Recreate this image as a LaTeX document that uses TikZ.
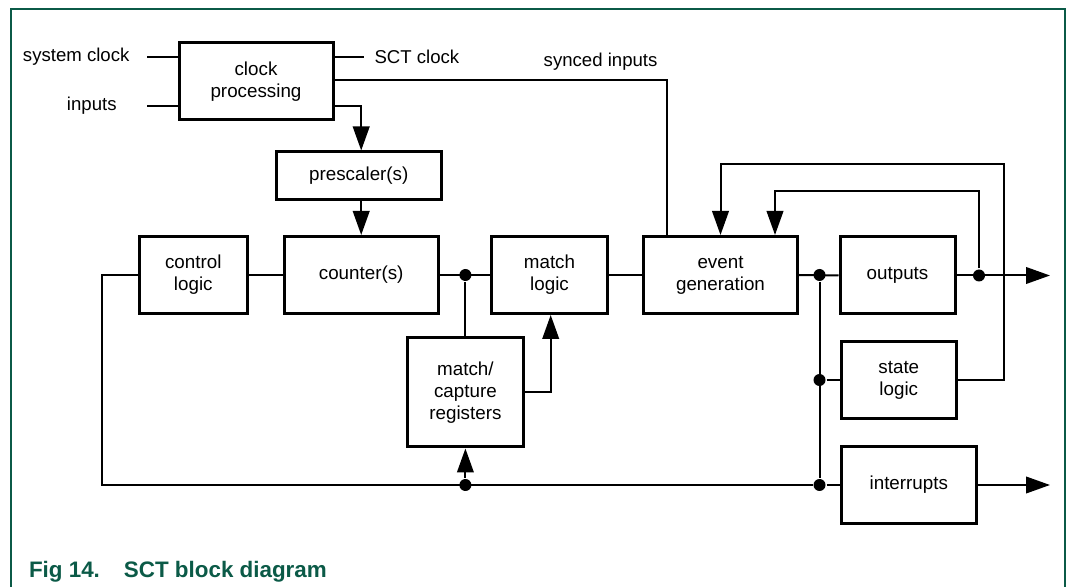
\documentclass[tikz,border=0pt]{standalone}
\usepackage{fontspec}
\setmainfont{Liberation Sans}
\usetikzlibrary{arrows.meta,positioning}
\definecolor{figgreen}{HTML}{0B5A47}

\begin{document}
\begin{tikzpicture}[x=0.5pt, y=-0.5pt, line width=1pt,
>={Triangle[length=12pt,width=8.3pt]},
block/.style={draw, line width=1.5pt, align=center, inner sep=0pt, font=\fontsize{9.4}{10.9}\selectfont},
lbl/.style={inner sep=0pt, font=\fontsize{9.3}{11}\selectfont},
dot/.style={circle, fill, inner sep=0pt, minimum size=6pt}]
\useasboundingbox (0,0) rectangle (1066,587);
\draw [figgreen, line width=0.6pt] (11,587) -- (11,9) -- (1065,9) -- (1065,587);

% blocks
\node [block, minimum width=77pt, minimum height=38.5pt] (clk_proc) at (256,81.5) {clock\\processing};
\node [block, minimum width=82.25pt, minimum height=24pt] (presc) at (358.8,176) {prescaler(s)};
\node [block, minimum width=54pt, minimum height=38.5pt] (ctrl) at (193.3,275) {control\\logic};
\node [block, minimum width=77pt, minimum height=38.5pt] (ctr) at (361.2,275) {counter(s)};
\node [block, minimum width=57.8pt, minimum height=38.5pt] (match) at (549.5,275) {match\\logic};
\node [block, minimum width=58pt, minimum height=54.5pt] (mcr) at (465.4,392.5) {match/\\capture\\registers};
\node [block, minimum width=77pt, minimum height=38.5pt] (evgen) at (720.5,275) {event\\generation};
\node [block, minimum width=57.5pt, minimum height=38.5pt] (outp) at (897.5,275.5) {\raisebox{-2pt}{outputs}};
\node [block, minimum width=57.8pt, minimum height=38.3pt] (statel) at (898.8,380) {state\\logic};
\node [block, minimum width=67.8pt, minimum height=38.3pt] (irq) at (908.8,485) {\raisebox{1.5pt}{interrupts}};

% labels
\node [lbl, anchor=west] (sysclk) at (22,57) {system clock};
\node [lbl] (inp) at (91.8,106) {inputs};
\node [lbl, anchor=west] (sctclk) at (373.5,57) {SCT clock};
\node [lbl] (sync) at (600.6,62) {synced inputs};

\coordinate (sysclk_in) at (147,57);
\coordinate (inp_in) at (147,106);
\coordinate (sctclk_out) at (364,57);
\coordinate (fb_outer) at (1003.5,164.5);
\coordinate (fb_inner) at (979,190.7);
\coordinate (out_end) at (1050,275.5);
\coordinate (irq_end) at (1050,485);

% clock side
\draw (sysclk_in) -- (sysclk_in -| clk_proc.west);
\draw (inp_in) -- (inp_in -| clk_proc.west);
\draw (sctclk_out -| clk_proc.east) -- (sctclk_out);
\draw ([yshift=0.75pt]clk_proc.east) -| ([xshift=-26.9pt]evgen.north);
\draw [->] ([yshift=-12.25pt]clk_proc.east) -| (ctr.north |- presc.north);
\draw [->] (presc.south -| ctr.north) -- (ctr.north);

% main chain
\node [dot] (j_ctr) at (ctr.east -| mcr.north) {};
\node [dot] (j_ev) at (819.5,275) {};
\node [dot] (j_st) at (j_ev |- statel.west) {};
\node [dot] (j_irq) at (j_ev |- irq.west) {};
\node [dot] (j_mcr) at (mcr.south |- irq.west) {};
\node [dot] (j_out) at (fb_inner |- outp.east) {};
\draw (ctrl.east) -- (ctr.west);
\draw (ctr.east) -- (match.west);
\draw (j_ctr) -- (mcr.north);
\draw [->] (mcr.east) -| ([xshift=0.6pt]match.south);
\draw (match.east) -- (evgen.west);
\draw (evgen.east) -- (outp.west);
\draw (j_ev) -- (j_irq);
\draw (j_st) -- (statel.west);
\draw (j_irq) -- (irq.west);
\draw (ctrl.west) -- ++(-36,0) |- (j_irq);
\draw [->] (j_mcr) -- (mcr.south);

% outputs and feedback
\draw [->] (outp.east) -- (out_end);
\draw [->] (irq.east) -- (irq_end);
\draw [->] (j_out) -- (fb_inner) -| ([xshift=27.25pt]evgen.north);
\draw [->] (statel.east) -| (fb_outer) -| (evgen.north);

\node [anchor=base west, inner sep=0pt, text=figgreen, font=\bfseries\fontsize{11.2}{13}\selectfont] (caption) at (28,577) {Fig 14.\hspace{12pt}SCT block diagram};
\end{tikzpicture}
\end{document}
